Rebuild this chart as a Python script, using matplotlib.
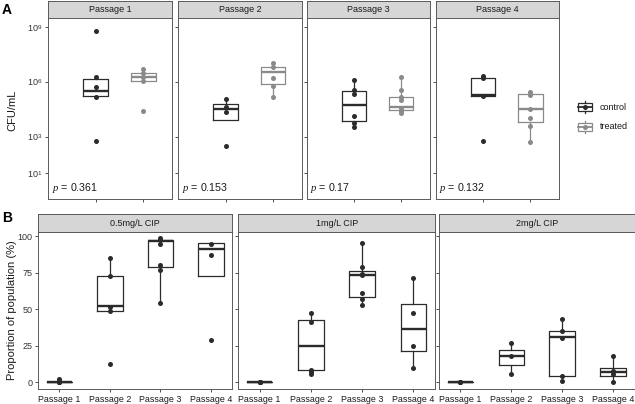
import matplotlib
matplotlib.use("Agg")
import matplotlib.pyplot as plt
from matplotlib.patches import Rectangle
import numpy as np

plt.rcParams['font.family'] = ['Liberation Sans', 'DejaVu Sans']
plt.rcParams['mathtext.fontset'] = 'custom'
plt.rcParams['mathtext.rm'] = 'Liberation Sans'
plt.rcParams['mathtext.it'] = 'Liberation Serif:italic'

# ---- Panel A data (log10 CFU/mL) ----
passages = ["Passage 1", "Passage 2", "Passage 3", "Passage 4"]
groups = ["control", "treated"]
p_values = ["0.361", "0.153", "0.17", "0.132"]

ctrl_pts = [[8.78, 6.28, 5.74, 5.19, 2.77],
            [5.06, 4.61, 4.37, 2.49],
            [6.09, 5.56, 5.34, 4.12, 3.73, 3.53],
            [6.32, 6.20, 5.24, 2.78]]
trt_pts = [[6.69, 6.47, 6.25, 6.06, 4.39],
           [7.01, 6.83, 6.21, 5.79, 5.16],
           [6.27, 5.56, 5.19, 5.01, 4.59, 4.42, 4.31],
           [5.43, 5.28, 4.52, 4.04, 3.59, 2.70]]
# whisker low, q1, median, q3, whisker high
ctrl_box = [[5.21, 5.21, 5.52, 6.14, 6.28],
            [3.90, 3.90, 4.53, 4.77, 5.06],
            [3.53, 3.84, 4.74, 5.52, 6.09],
            [5.23, 5.23, 5.28, 6.21, 6.32]]
trt_box = [[6.06, 6.06, 6.27, 6.48, 6.69],
           [5.16, 5.88, 6.54, 6.81, 7.01],
           [4.31, 4.48, 4.64, 5.19, 6.27],
           [2.70, 3.79, 4.53, 5.32, 5.43]]

# ---- Panel B data (proportion %) ----
concs = ["0.5mg/L CIP", "1mg/L CIP", "2mg/L CIP"]
pts_05 = [[0, 0, 0, 1.2, 2.5], [85.2, 72.9, 51.5, 48.8, 12.5],
          [98.6, 97.3, 95.0, 80.4, 77.0, 54.4], [95.0, 87.2, 29.0]]
pts_1 = [[0, 0, 0, 0], [47.1, 41.2, 8.4, 6.8, 5.7],
         [95.2, 78.8, 74.2, 73.6, 60.8, 56.7, 53.1], [71.5, 47.6, 25.1, 10.0]]
pts_2 = [[0, 0, 0], [27.1, 17.6, 5.5],
         [43.0, 35.1, 30.3, 4.4, 1.0], [17.6, 7.5, 5.7, 0.3]]
box_05 = [[0, 0, 0, 0, 0], [48.8, 48.8, 51.9, 72.9, 85.2],
          [54.4, 79.2, 96.8, 97.5, 98.6], [72.9, 72.9, 91.5, 95.3, 95.3]]
box_1 = [[0, 0, 0, 0, 0], [5.7, 8.0, 24.8, 42.6, 47.1],
         [53.1, 58.5, 73.1, 76.5, 95.2], [10.0, 21.4, 36.2, 53.5, 71.5]]
box_2 = [[0, 0, 0, 0, 0], [5.5, 11.6, 17.6, 22.1, 27.1],
         [1.0, 4.1, 30.7, 35.1, 43.0], [0.3, 4.4, 6.8, 9.8, 17.6]]

W, H = 635, 404
fig = plt.figure(figsize=(W / 100, H / 100), dpi=100)
fig.patch.set_facecolor("white")

dark = "#2b2b2b"
grey = "#8a8a8a"
border = "#5a5a5a"
strip_fill = "#d6d6d6"


def px_axes(x0, y0, x1, y1):
    return fig.add_axes([x0 / W, 1 - y1 / H, (x1 - x0) / W, (y1 - y0) / H])


def strip(x0, y0, x1, y1, label):
    s = px_axes(x0, y0, x1, y1)
    s.set_facecolor(strip_fill)
    s.set_xticks([])
    s.set_yticks([])
    for sp in s.spines.values():
        sp.set_color(border)
        sp.set_linewidth(0.7)
    s.text(0.5, 0.5, label, ha="center", va="center", fontsize=6.5, color="#1a1a1a",
           transform=s.transAxes)


def stats_dict(b, tf=lambda v: v):
    return dict(whislo=tf(b[0]), q1=tf(b[1]), med=tf(b[2]), q3=tf(b[3]), whishi=tf(b[4]))


def draw_box(ax, pos, b, pts, col, width, tf=lambda v: v):
    ax.bxp([stats_dict(b, tf)], positions=[pos], widths=width, showfliers=False,
           showcaps=False,
           boxprops=dict(color=col, linewidth=0.9),
           whiskerprops=dict(color=col, linewidth=0.9),
           medianprops=dict(color=col, linewidth=1.7),
           manage_ticks=False)
    ax.scatter([pos] * len(pts), [tf(v) for v in pts], s=13, color=col, zorder=3,
               linewidths=0)


def style(ax):
    for sp in ax.spines.values():
        sp.set_color(border)
        sp.set_linewidth(0.7)
    ax.tick_params(length=2.5, width=0.6, color="#333333", labelsize=6.5,
                   labelcolor="#333333", pad=1.5)


# ---- Panel A ----
xa = [(48.3, 172.3), (178.3, 301.7), (306.5, 430.0), (435.5, 559.3)]
pow10 = lambda v: 10 ** v
for i, (x0, x1) in enumerate(xa):
    ax = px_axes(x0, 17.5, x1, 199)
    ax.set_yscale("log")
    draw_box(ax, 1, ctrl_box[i], ctrl_pts[i], dark, 0.52, pow10)
    draw_box(ax, 2, trt_box[i], trt_pts[i], grey, 0.52, pow10)
    ax.set_xlim(0.0, 2.61)
    ax.set_ylim(10 ** -0.40, 10 ** 9.52)
    ax.set_xticks([1, 2])
    ax.set_xticklabels([])
    ax.yaxis.set_minor_locator(matplotlib.ticker.NullLocator())
    ax.set_yticks([10, 1e3, 1e6, 1e9])
    if i == 0:
        ax.set_yticklabels(["$10^{1}$", "$10^{3}$", "$10^{6}$", "$10^{9}$"])
    else:
        ax.set_yticklabels([])
        ax.tick_params(axis="y", length=0)
    style(ax)
    ax.text(0.03, 0.06, "$p$ = " + p_values[i], transform=ax.transAxes,
            fontsize=7.7, color="#1a1a1a", ha="left", va="center")
    strip(x0, 1, x1, 17.5, passages[i])

fig.text(12 / W, 1 - 110 / H, "CFU/mL", rotation=90, ha="center", va="center",
         fontsize=8, color="#1a1a1a")
fig.text(2 / W, 1 - 10 / H, "A", fontsize=10, fontweight="bold", ha="left", va="center")

# legend
lg = px_axes(570, 95, 635, 135)
lg.set_xlim(570, 635)
lg.set_ylim(135, 95)
lg.axis("off")
for yc, col, name in [(107, dark, "control"), (126.7, grey, "treated")]:
    lg.add_patch(Rectangle((578.3, yc - 4), 13.4, 8, fill=False, edgecolor=col, lw=0.9))
    lg.plot([585, 585], [yc - 6, yc - 4], color=col, lw=0.9)
    lg.plot([585, 585], [yc + 4, yc + 6], color=col, lw=0.9)
    lg.plot([578.3, 591.7], [yc, yc], color=col, lw=1.3)
    lg.scatter([585], [yc], s=13, color=col, linewidths=0, zorder=3)
    lg.text(600, yc, name, fontsize=6.5, color="#1a1a1a", ha="left", va="center")

# ---- Panel B ----
xb = [(38.3, 232.3), (238.3, 435.0), (439.3, 634.5)]
all_pts = [pts_05, pts_1, pts_2]
all_box = [box_05, box_1, box_2]
for i, (x0, x1) in enumerate(xb):
    ax = px_axes(x0, 232, x1, 389.3)
    for j in range(4):
        draw_box(ax, j + 1, all_box[i][j], all_pts[i][j], dark, 0.5)
    ax.set_xlim(0.585, 4.42)
    ax.set_ylim(-4.9, 102.9)
    ax.set_xticks([1, 2, 3, 4])
    ax.set_xticklabels(passages)
    ax.set_yticks([0, 25, 50, 75, 100])
    if i > 0:
        ax.set_yticklabels([])
        ax.tick_params(axis="y", length=0)
    style(ax)
    ax.tick_params(axis="x", labelsize=6.4, labelcolor="#1a1a1a")
    strip(x0, 214.3, x1, 232, concs[i])

fig.text(12 / W, 1 - 310 / H, "Proportion of population (%)", rotation=90,
         ha="center", va="center", fontsize=8, color="#1a1a1a")
fig.text(2 / W, 1 - 218 / H, "B", fontsize=10, fontweight="bold", ha="left", va="center")

fig.savefig("out.png", dpi=100)
